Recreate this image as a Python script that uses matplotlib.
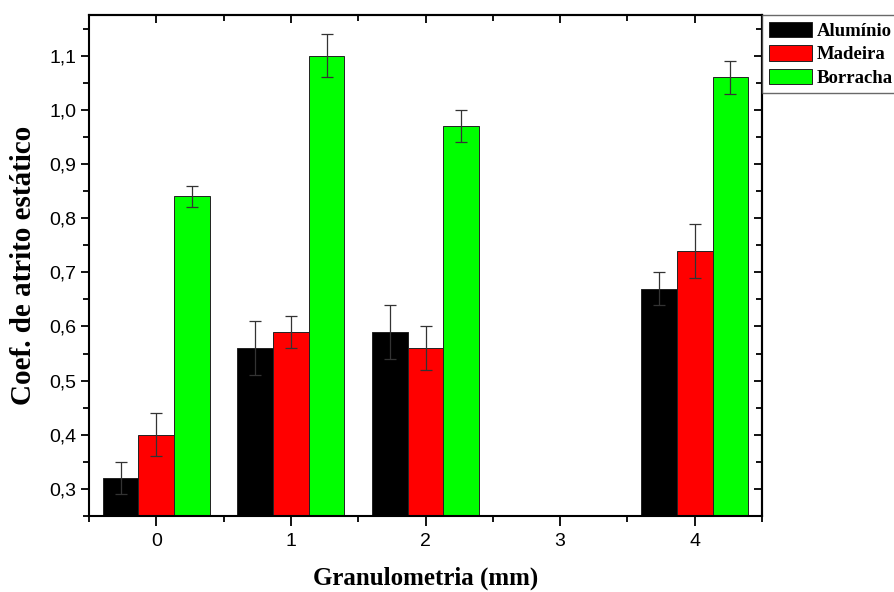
import matplotlib
matplotlib.use("Agg")
import matplotlib.pyplot as plt
from matplotlib.ticker import MultipleLocator, FuncFormatter
import numpy as np

categories = [0, 1, 2, 3, 4]
series_names = ["Alumínio", "Madeira", "Borracha"]
aluminio = [0.32, 0.56, 0.59, np.nan, 0.67]
aluminio_err = [0.03, 0.05, 0.05, np.nan, 0.03]
madeira = [0.40, 0.59, 0.56, np.nan, 0.74]
madeira_err = [0.04, 0.03, 0.04, np.nan, 0.05]
borracha = [0.84, 1.10, 0.97, np.nan, 1.06]
borracha_err = [0.02, 0.04, 0.03, np.nan, 0.03]

colors = ["#000000", "#ff0000", "#00ff00"]

fig = plt.figure(figsize=(8.95, 5.92), dpi=100)
ax = fig.add_axes([89/895, 1-516/592, (762-89)/895, (516-15)/592])

x = np.array(categories, dtype=float)
w = 0.265
vals = [aluminio, madeira, borracha]
errs = [aluminio_err, madeira_err, borracha_err]
for i, (v, e, c, n) in enumerate(zip(vals, errs, colors, series_names)):
    pos = x + (i - 1) * w
    ax.bar(pos, v, width=w, color=c, edgecolor="#222222", linewidth=0.7,
           label=n, zorder=2)
    ax.errorbar(pos, v, yerr=e, fmt="none", ecolor="#333333", elinewidth=0.9,
                capsize=4, capthick=0.9, zorder=3)

ax.set_xlim(-0.5, 4.5)
ax.set_ylim(0.25, 1.175)
ax.xaxis.set_major_locator(MultipleLocator(1))
ax.xaxis.set_minor_locator(MultipleLocator(0.5))
ax.yaxis.set_major_locator(MultipleLocator(0.1))
ax.yaxis.set_minor_locator(MultipleLocator(0.05))
ax.yaxis.set_major_formatter(FuncFormatter(lambda v, p: f"{v:.1f}".replace(".", ",")))
ax.xaxis.set_major_formatter(FuncFormatter(lambda v, p: f"{int(round(v))}"))

for s in ax.spines.values():
    s.set_linewidth(1.5)

ax.tick_params(axis="y", which="major", direction="out", length=6, width=1.3,
               labelsize=14, pad=3)
ax.tick_params(axis="y", which="minor", direction="out", length=4, width=1.3)
ax.tick_params(axis="x", which="major", direction="out", length=7, width=1.3,
               labelsize=14, pad=5)
ax.tick_params(axis="x", which="minor", direction="out", length=4, width=1.3)
for lab in ax.get_xticklabels() + ax.get_yticklabels():
    lab.set_family("Liberation Sans")

# mirrored inward ticks on top and right
axt = ax.secondary_xaxis("top")
axt.xaxis.set_major_locator(MultipleLocator(1))
axt.xaxis.set_minor_locator(MultipleLocator(0.5))
axt.tick_params(which="major", direction="in", length=6, width=1.3, labeltop=False)
axt.tick_params(which="minor", direction="in", length=4, width=1.3)
axr = ax.secondary_yaxis("right")
axr.yaxis.set_major_locator(MultipleLocator(0.1))
axr.yaxis.set_minor_locator(MultipleLocator(0.05))
axr.tick_params(which="major", direction="in", length=6, width=1.3, labelright=False)
axr.tick_params(which="minor", direction="in", length=4, width=1.3)
axt.spines["top"].set_linewidth(1.5)
axr.spines["right"].set_linewidth(1.5)

ax.set_xlabel("Granulometria (mm)", family="Liberation Serif", fontweight="bold",
              fontsize=18, labelpad=12)
ax.set_ylabel("Coef. de atrito estático", family="Liberation Serif", fontweight="bold",
              fontsize=21, labelpad=9)

leg = ax.legend(loc="upper left", bbox_to_anchor=(1.0, 1.0), borderaxespad=0,
                frameon=True, fancybox=False, edgecolor="#444444",
                prop={"family": "Liberation Serif", "weight": "bold", "size": 13.5},
                handlelength=2.3, handleheight=0.9, handletextpad=0.25,
                labelspacing=0.28, borderpad=0.35)
leg.get_frame().set_linewidth(1.0)

fig.savefig("out.png", dpi=100)
